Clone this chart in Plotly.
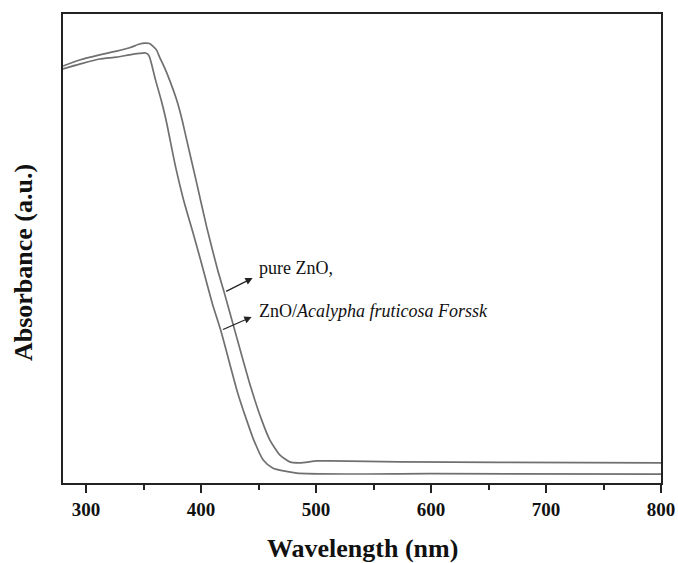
import plotly.graph_objects as go

# Pure ZnO (upper / right curve)
pure_wl = [280, 294.4, 311.8, 326.6, 337.9, 346.6, 350.9, 355.3, 357.9, 361.4, 364.0, 368.4,
           372.7, 378.8, 383.6, 386.2, 396.2, 404.9, 414.5, 420.1, 429.3, 443.2, 452.8,
           459.8, 468.5, 477.2, 485.9, 500.7, 512.0, 572.9, 660.0, 800.0]
pure_abs = [0.889, 0.902, 0.913, 0.921, 0.928, 0.936, 0.938, 0.937, 0.932, 0.923, 0.908, 0.885,
            0.859, 0.817, 0.774, 0.746, 0.640, 0.546, 0.454, 0.407, 0.326, 0.205, 0.134,
            0.092, 0.060, 0.045, 0.043, 0.047, 0.047, 0.045, 0.044, 0.043]

# ZnO/Acalypha fruticosa Forssk (lower / left curve)
acal_wl = [280, 294.4, 311.8, 326.6, 337.9, 346.6, 350.9, 353.5, 355.3, 360.5, 365.3, 369.6,
           377.9, 384.9, 393.1, 399.7, 409.7, 417.1, 431.9, 439.7, 445.8, 454.1, 462.3,
           483.2, 600.0, 800.0]
acal_abs = [0.883, 0.893, 0.904, 0.908, 0.913, 0.916, 0.917, 0.915, 0.908, 0.859, 0.817, 0.774,
            0.674, 0.603, 0.533, 0.475, 0.384, 0.326, 0.192, 0.134, 0.092, 0.049, 0.032,
            0.021, 0.020, 0.019]

x_ticks = [300, 400, 500, 600, 700, 800]
x_minor = [350, 450, 550, 650, 750]

line_color = "#707070"
fig = go.Figure()
fig.add_trace(go.Scatter(x=pure_wl, y=pure_abs, mode="lines", name="pure ZnO",
                         line=dict(color=line_color, width=1.7, shape="spline", smoothing=0.6)))
fig.add_trace(go.Scatter(x=acal_wl, y=acal_abs, mode="lines", name="ZnO/Acalypha fruticosa Forssk",
                         line=dict(color=line_color, width=1.7, shape="spline", smoothing=0.6)))

font_serif = "Liberation Serif, Times New Roman, serif"

# arrows
fig.add_annotation(x=444.9, y=0.437, ax=420.6, ay=0.407, xref="x", yref="y", axref="x", ayref="y",
                   text="", showarrow=True, arrowhead=2, arrowsize=1.2, arrowwidth=1.2,
                   arrowcolor="#222222")
fig.add_annotation(x=444.0, y=0.354, ax=417.9, ay=0.326, xref="x", yref="y", axref="x", ayref="y",
                   text="", showarrow=True, arrowhead=2, arrowsize=1.2, arrowwidth=1.2,
                   arrowcolor="#222222")
# labels
fig.add_annotation(x=448.5, y=(483 - 268) / 469, xref="x", yref="y", text="pure ZnO,",
                   showarrow=False, xanchor="left", yanchor="middle",
                   font=dict(family=font_serif, size=18, color="#111111"))
fig.add_annotation(x=448.5, y=(483 - 311) / 469, xref="x", yref="y",
                   text="ZnO/<i>Acalypha fruticosa Forssk</i>",
                   showarrow=False, xanchor="left", yanchor="middle",
                   font=dict(family=font_serif, size=18, color="#111111"))
# axis titles
fig.add_annotation(x=0.5, y=-0.1386, xref="paper", yref="paper", text="<b>Wavelength (nm)</b>",
                   showarrow=False, xanchor="center", yanchor="middle",
                   font=dict(family=font_serif, size=26, color="#111111"))
fig.add_annotation(x=-0.0669, y=0.471, xref="paper", yref="paper", text="<b>Absorbance (a.u.)</b>",
                   showarrow=False, xanchor="center", yanchor="middle", textangle=-90,
                   font=dict(family=font_serif, size=26, color="#111111"))

fig.update_layout(
    width=678, height=563,
    margin=dict(l=63, r=17, t=14, b=80, autoexpand=False),
    paper_bgcolor="white", plot_bgcolor="white",
    showlegend=False,
    font=dict(family=font_serif, color="#111111"),
    xaxis=dict(range=[280, 800], tickvals=x_ticks, ticktext=[str(v) for v in x_ticks],
               ticks="outside", ticklen=8, tickwidth=1.5, tickcolor="#222222",
               minor=dict(tickvals=x_minor, ticks="outside", ticklen=5,
                          tickwidth=1.5, tickcolor="#222222"),
               showline=True, linecolor="#222222", linewidth=2, mirror=True,
               showgrid=False, zeroline=False, automargin=False,
               tickfont=dict(family=font_serif, size=19, color="#111111", weight="bold")),
    yaxis=dict(range=[0, 1], showticklabels=False, ticks="",
               showline=True, linecolor="#222222", linewidth=2, mirror=True,
               showgrid=False, zeroline=False, automargin=False),
)

fig.write_html("out.html", config={"displayModeBar": False},
               post_script="document.body.style.margin='0';document.body.style.overflow='hidden';")
